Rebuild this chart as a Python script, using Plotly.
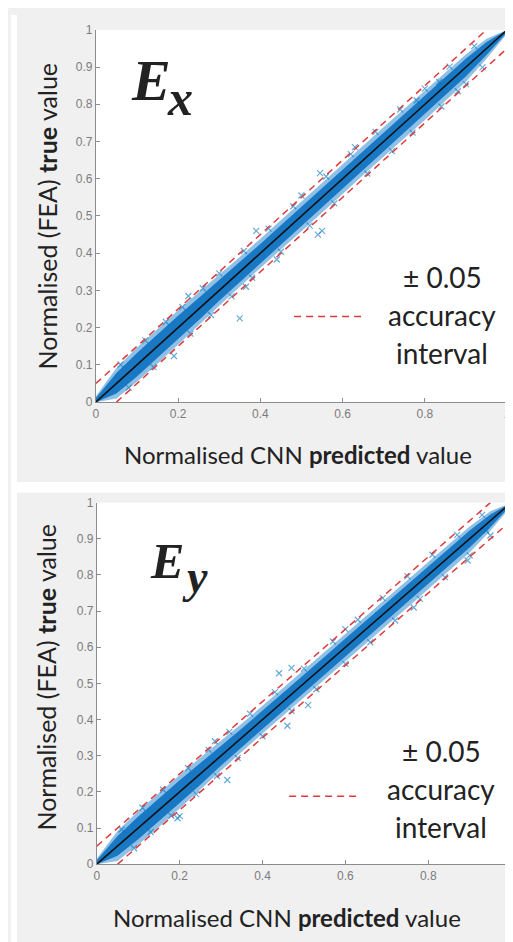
import plotly.graph_objects as go

W, H = 513, 942

# ---------------- data ----------------
band_x = [0.0, 0.05, 0.1, 0.15, 0.2, 0.25, 0.3, 0.35, 0.4, 0.45, 0.5,
          0.55, 0.6, 0.65, 0.7, 0.75, 0.8, 0.85, 0.9, 0.95, 1.0]

# Ex : spread of the dense cloud above / below the diagonal
ex_outer_up = [0.016, 0.042, 0.047, 0.048, 0.047, 0.045, 0.042, 0.040, 0.039, 0.039, 0.040,
               0.041, 0.040, 0.039, 0.039, 0.038, 0.037, 0.036, 0.034, 0.026, 0.010]
ex_outer_dn = [0.014, 0.040, 0.045, 0.047, 0.046, 0.044, 0.041, 0.040, 0.039, 0.040, 0.041,
               0.042, 0.041, 0.040, 0.040, 0.041, 0.042, 0.041, 0.039, 0.028, 0.010]
ex_core_up = [0.011, 0.028, 0.032, 0.033, 0.032, 0.030, 0.028, 0.026, 0.025, 0.025, 0.025,
              0.025, 0.025, 0.025, 0.025, 0.024, 0.024, 0.024, 0.023, 0.017, 0.006]
ex_core_dn = [0.011, 0.027, 0.031, 0.032, 0.031, 0.030, 0.028, 0.026, 0.026, 0.026, 0.026,
              0.026, 0.026, 0.026, 0.026, 0.026, 0.026, 0.026, 0.025, 0.018, 0.006]
ex_pred = [0.06, 0.08, 0.12, 0.14, 0.17, 0.19, 0.21, 0.23, 0.26, 0.28, 0.30, 0.33, 0.36, 0.38,
           0.42, 0.45, 0.48, 0.52, 0.56, 0.58, 0.62, 0.66, 0.68, 0.72, 0.74, 0.77, 0.80, 0.84,
           0.86, 0.90, 0.92, 0.94,
           0.35, 0.39, 0.545, 0.55, 0.54, 0.44, 0.50, 0.365, 0.225, 0.63, 0.835, 0.88, 0.78]
ex_true = [0.101, 0.039, 0.166, 0.094, 0.216, 0.124, 0.256, 0.184, 0.306, 0.234, 0.346, 0.284, 0.406, 0.334,
           0.466, 0.404, 0.526, 0.474, 0.606, 0.534, 0.666, 0.614, 0.726, 0.674, 0.786, 0.724, 0.842, 0.794,
           0.901, 0.854, 0.956, 0.899,
           0.225, 0.46, 0.615, 0.46, 0.45, 0.383, 0.555, 0.31, 0.285, 0.685, 0.86, 0.835, 0.81]

# Ey
ey_outer_up = [0.016, 0.042, 0.047, 0.048, 0.047, 0.045, 0.041, 0.039, 0.038, 0.038, 0.038,
               0.038, 0.038, 0.038, 0.037, 0.037, 0.036, 0.035, 0.034, 0.026, 0.010]
ey_outer_dn = [0.014, 0.041, 0.046, 0.047, 0.046, 0.044, 0.041, 0.039, 0.038, 0.038, 0.039,
               0.039, 0.039, 0.039, 0.039, 0.040, 0.040, 0.039, 0.038, 0.028, 0.010]
ey_core_up = [0.011, 0.028, 0.032, 0.033, 0.032, 0.030, 0.027, 0.025, 0.025, 0.024, 0.024,
              0.024, 0.024, 0.024, 0.024, 0.024, 0.023, 0.023, 0.023, 0.017, 0.006]
ey_core_dn = [0.011, 0.027, 0.031, 0.032, 0.031, 0.030, 0.027, 0.025, 0.025, 0.025, 0.025,
              0.025, 0.025, 0.025, 0.025, 0.025, 0.025, 0.025, 0.024, 0.018, 0.006]
ey_pred = [0.06, 0.09, 0.11, 0.13, 0.16, 0.18, 0.22, 0.24, 0.27, 0.29, 0.32, 0.34, 0.37, 0.40,
           0.43, 0.47, 0.50, 0.53, 0.57, 0.60, 0.63, 0.66, 0.69, 0.72, 0.75, 0.78, 0.81, 0.84,
           0.87, 0.90, 0.93, 0.95,
           0.44, 0.47, 0.46, 0.51, 0.315, 0.20, 0.195, 0.285, 0.895, 0.94, 0.60, 0.765]
ey_true = [0.096, 0.044, 0.156, 0.089, 0.206, 0.134, 0.266, 0.194, 0.316, 0.244, 0.366, 0.294, 0.416, 0.354,
           0.476, 0.424, 0.541, 0.484, 0.616, 0.554, 0.676, 0.614, 0.736, 0.674, 0.796, 0.734, 0.856, 0.794,
           0.911, 0.854, 0.966, 0.909,
           0.528, 0.543, 0.383, 0.44, 0.233, 0.133, 0.127, 0.34, 0.84, 0.923, 0.65, 0.71]

ideal_x = [0.0, 1.0]
ideal_y = [0.0, 1.0]
upper_x = [0.0, 0.95]
upper_y = [0.05, 1.0]
lower_x = [0.05, 1.0]
lower_y = [0.0, 0.95]

x_ticks = [0, 0.2, 0.4, 0.6, 0.8, 1]
y_ticks = [0, 0.1, 0.2, 0.3, 0.4, 0.5, 0.6, 0.7, 0.8, 0.9, 1]


def band(up, dn):
    xs = band_x + band_x[::-1]
    top = [min(1.0, x + u) for x, u in zip(band_x, up)]
    bot = [max(0.0, x - d) for x, d in zip(band_x, dn)]
    return xs, top + bot[::-1]


fig = go.Figure()

panels = [
    ("x", "y", ex_outer_up, ex_outer_dn, ex_core_up, ex_core_dn, ex_pred, ex_true),
    ("x2", "y2", ey_outer_up, ey_outer_dn, ey_core_up, ey_core_dn, ey_pred, ey_true),
]
for xa, ya, ou, od, cu, cd, px, py in panels:
    bx, by = band(ou, od)
    fig.add_trace(go.Scatter(x=bx, y=by, xaxis=xa, yaxis=ya, mode="lines", fill="toself",
                             fillcolor="rgba(70,150,212,0.6)", line=dict(width=0),
                             hoverinfo="skip", showlegend=False))
    bx, by = band(cu, cd)
    fig.add_trace(go.Scatter(x=bx, y=by, xaxis=xa, yaxis=ya, mode="lines", fill="toself",
                             fillcolor="rgba(18,116,194,0.95)", line=dict(width=0),
                             hoverinfo="skip", showlegend=False))
    fig.add_trace(go.Scatter(x=px, y=py, xaxis=xa, yaxis=ya, mode="markers",
                             marker=dict(symbol="x-thin", size=6,
                                         line=dict(width=1.2, color="rgba(0,114,189,0.6)")),
                             showlegend=False))
    fig.add_trace(go.Scatter(x=ideal_x, y=ideal_y, xaxis=xa, yaxis=ya, mode="lines",
                             line=dict(color="#111111", width=1.6), showlegend=False))
    for lx, ly in ((upper_x, upper_y), (lower_x, lower_y)):
        fig.add_trace(go.Scatter(x=lx, y=ly, xaxis=xa, yaxis=ya, mode="lines",
                                 line=dict(color="#dc3c3c", width=1.5, dash="7px,5px"),
                                 showlegend=False))


def px2x(p):
    return p / W


def px2y(p):
    return 1 - p / H


axis_common = dict(range=[0, 1], showline=True, linecolor="#8c8c8c", linewidth=1,
                   ticks="inside", ticklen=4, tickcolor="#8c8c8c", showgrid=False,
                   zeroline=False, ticklabeloverflow="allow",
                   tickfont=dict(family="Liberation Sans", size=12, color="#7c7c7c"))

fig.update_layout(
    width=W, height=H, margin=dict(l=0, r=0, t=0, b=0),
    paper_bgcolor="#f0f0f0", plot_bgcolor="white", showlegend=False,
    xaxis=dict(domain=[px2x(86), px2x(503)], anchor="y", tickvals=x_ticks, **axis_common),
    yaxis=dict(domain=[px2y(393), px2y(15)], anchor="x", tickvals=y_ticks, **axis_common),
    xaxis2=dict(domain=[px2x(87), px2x(507)], anchor="y2", tickvals=x_ticks, **axis_common),
    yaxis2=dict(domain=[px2y(862), px2y(495)], anchor="x2", tickvals=y_ticks, **axis_common),
)

shapes = [
    # white gaps around the two grey panels
    dict(type="rect", xref="paper", yref="paper", x0=0, x1=px2x(6), y0=0, y1=1,
         fillcolor="white", line=dict(width=0), layer="below"),
    dict(type="rect", xref="paper", yref="paper", x0=0, x1=1, y0=px2y(485), y1=px2y(474),
         fillcolor="white", line=dict(width=0), layer="below"),
    # legend sample lines
    dict(type="line", xref="paper", yref="paper", x0=px2x(287), x1=px2x(357),
         y0=px2y(306), y1=px2y(306), line=dict(color="#dc3c3c", width=1.5, dash="7px,5px")),
    dict(type="line", xref="paper", yref="paper", x0=px2x(282), x1=px2x(355),
         y0=px2y(793), y1=px2y(793), line=dict(color="#dc3c3c", width=1.5, dash="7px,5px")),
]
fig.update_layout(shapes=shapes)

TXT = "#222222"
ann = []


def add(text, x, y, size, family="Lato", angle=0, xanchor="center", color=TXT):
    ann.append(dict(text=text, xref="paper", yref="paper", x=px2x(x), y=px2y(y),
                    xanchor=xanchor, yanchor="middle", showarrow=False, textangle=angle,
                    font=dict(family=family, size=size, color=color)))


xt = "Normalised CNN <b>predicted</b> value"
yt = "Normalised (FEA) <b>true</b> value"
add(xt, 291, 446, 24)
add(yt, 36, 204, 25, angle=-90)
add(xt, 280, 916, 24)
add(yt, 35, 672, 25, angle=-90)

for (cx, y0) in ((437, 266), (436, 747)):
    add("± 0.05", cx, y0, 28)
    add("accuracy", cx, y0 + 39, 28)
    add("interval", cx, y0 + 77, 28)

add("<b><i>E</i></b>", 120, 66, 58, family="Liberation Serif", xanchor="left")
add("<b><i>x</i></b>", 156, 84, 50, family="Liberation Serif", xanchor="left")
add("<b><i>E</i></b>", 139, 554, 50, family="Liberation Serif", xanchor="left")
add("<b><i>y</i></b>", 171, 570, 46, family="Liberation Serif", xanchor="left")

fig.update_layout(annotations=ann)

fig.write_html("out.html")
